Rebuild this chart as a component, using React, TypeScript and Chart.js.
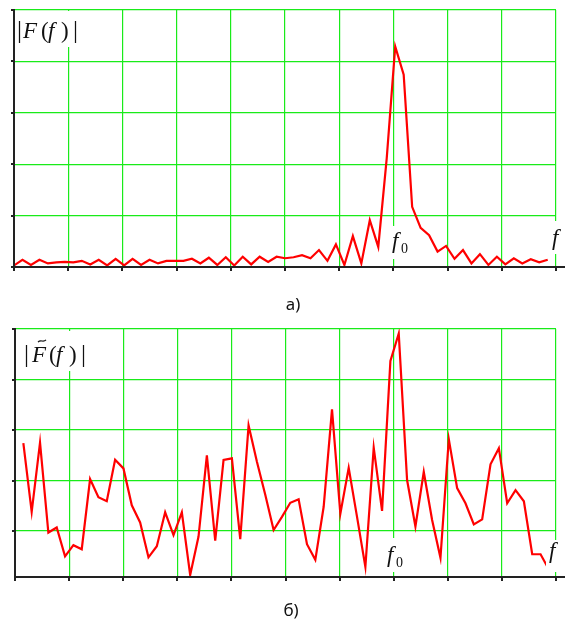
import React, { useEffect, useRef } from "react";
import { Chart, registerables } from "chart.js";

Chart.register(...registerables);

// ---------- data ----------
const X_GRID_TICKS = [0, 1, 2, 3, 4, 5, 6, 7, 8, 9, 10];
const TOP_Y_TICKS = [0, 1, 2, 3, 4, 5];
const BOTTOM_Y_TICKS = [1, 2, 3, 4, 5];
const TOP_Y_MIN = 0;
const TOP_Y_MAX = 5;
const BOTTOM_Y_MIN = 0.09;
const BOTTOM_Y_MAX = 5;

// frequency step (in grid units) between samples
const TOP_FREQ_STEP = 0.1563;
const BOTTOM_FREQ_STEP = 0.1542;
const BOTTOM_FIRST_INDEX = 1;

// |F(f)| — clean spectrum, samples 0..63
const topSpectrum = [
  0.03, 0.14, 0.04, 0.14, 0.07, 0.09, 0.1, 0.09, 0.12, 0.05,
  0.14, 0.03, 0.16, 0.03, 0.16, 0.04, 0.14, 0.07, 0.12, 0.12,
  0.12, 0.16, 0.07, 0.18, 0.04, 0.19, 0.03, 0.2, 0.05, 0.2,
  0.1, 0.2, 0.17, 0.19, 0.23, 0.17, 0.33, 0.12, 0.44, 0.04,
  0.6, 0.07, 0.91, 0.39, 2.12, 4.29, 3.74, 1.17, 0.76, 0.62,
  0.3, 0.41, 0.16, 0.33, 0.07, 0.25, 0.04, 0.2, 0.05, 0.17,
  0.07, 0.15, 0.09, 0.14,
];

// |F~(f)| — noisy spectrum, samples 1..64
const bottomSpectrum = [
  2.74, 1.38, 2.75, 0.97, 1.07, 0.5, 0.72, 0.64, 2.03, 1.67,
  1.59, 2.41, 2.24, 1.51, 1.17, 0.48, 0.7, 1.37, 0.92, 1.37,
  0.13, 0.89, 2.5, 0.81, 2.41, 2.44, 0.84, 3.09, 2.37, 1.72,
  1.02, 1.28, 1.56, 1.63, 0.74, 0.43, 1.48, 3.41, 1.34, 2.25,
  1.28, 0.29, 2.65, 1.4, 4.37, 4.91, 2.01, 1.09, 2.17, 1.22,
  0.47, 2.82, 1.85, 1.55, 1.13, 1.23, 2.32, 2.64, 1.55, 1.81,
  1.59, 0.54, 0.54, 0.24,
];

const CAPTION_TOP = "а)";
const CAPTION_BOTTOM = "б)";

// ---------- styles ----------
const GRID_COLOR = "rgb(25,235,25)";
const LINE_COLOR = "#ff0000";
const AXIS_COLOR = "#222222";
const SERIF = '"Liberation Serif", "DejaVu Serif", serif';

type Run = { t: string; x: number; italic?: boolean; size?: number; dy?: number };
type Box = [number, number, number, number];
type Label = { box: Box; runs: Run[]; baseline: number; tilde?: [number, number] };

function drawRuns(ctx: CanvasRenderingContext2D, baseline: number, runs: Run[]) {
  ctx.fillStyle = "#111";
  ctx.textAlign = "left";
  ctx.textBaseline = "alphabetic";
  for (const r of runs) {
    ctx.font = `${r.italic ? "italic " : ""}${r.size || 23}px ${SERIF}`;
    ctx.fillText(r.t, r.x, baseline + (r.dy || 0));
  }
}

function makeDecorPlugin(labels: Label[], yTicks: number[], caption: { text: string; x: number; y: number }) {
  return {
    id: "decor",
    afterDraw(chart: any) {
      const ctx: CanvasRenderingContext2D = chart.ctx;
      const { left, top, bottom } = chart.chartArea;
      const xs = chart.scales.x;
      const ys = chart.scales.y;
      ctx.save();
      // label boxes + labels
      for (const l of labels) {
        ctx.fillStyle = "#ffffff";
        ctx.fillRect(l.box[0], l.box[1], l.box[2], l.box[3]);
        drawRuns(ctx, l.baseline, l.runs);
        if (l.tilde) {
          const [tx, ty] = l.tilde;
          ctx.beginPath();
          ctx.strokeStyle = "#111";
          ctx.lineWidth = 1.1;
          ctx.moveTo(tx, ty + 1.2);
          ctx.bezierCurveTo(tx + 2.5, ty - 2, tx + 5.5, ty + 2, tx + 8, ty - 1.2);
          ctx.stroke();
        }
      }
      // axes
      ctx.strokeStyle = AXIS_COLOR;
      ctx.lineWidth = 2;
      ctx.beginPath();
      ctx.moveTo(left, top - 1);
      ctx.lineTo(left, bottom + 1);
      ctx.moveTo(left - 1, bottom);
      ctx.lineTo(chart.width, bottom);
      for (const v of yTicks) {
        const py = Math.round(ys.getPixelForValue(v));
        ctx.moveTo(left - 3, py);
        ctx.lineTo(left, py);
      }
      for (const v of X_GRID_TICKS) {
        const px = Math.round(xs.getPixelForValue(v));
        ctx.moveTo(px, bottom);
        ctx.lineTo(px, bottom + 4);
      }
      ctx.stroke();
      // caption
      ctx.fillStyle = "#111";
      ctx.font = '17px "Noto Sans", "Open Sans", sans-serif';
      ctx.textAlign = "center";
      ctx.fillText(caption.text, caption.x, caption.y);
      ctx.restore();
    },
  };
}

function buildChart(
  canvas: HTMLCanvasElement,
  points: { x: number; y: number }[],
  yMin: number,
  yMax: number,
  yTicks: number[],
  padding: { left: number; top: number; right: number; bottom: number },
  plugin: any
) {
  return new Chart(canvas, {
    type: "line",
    data: {
      datasets: [
        {
          data: points,
          borderColor: LINE_COLOR,
          borderWidth: 2.2,
          pointRadius: 0,
          tension: 0,
          fill: false,
        },
      ],
    },
    options: {
      animation: false,
      responsive: false,
      events: [],
      layout: { padding },
      plugins: { legend: { display: false }, tooltip: { enabled: false } },
      scales: {
        x: {
          type: "linear",
          min: 0,
          max: 10,
          afterBuildTicks: (s: any) => {
            s.ticks = X_GRID_TICKS.map((v) => ({ value: v }));
          },
          ticks: { display: false },
          grid: { color: GRID_COLOR, lineWidth: 1.2, drawTicks: false },
          border: { display: false },
        },
        y: {
          type: "linear",
          min: yMin,
          max: yMax,
          afterBuildTicks: (s: any) => {
            s.ticks = yTicks.map((v) => ({ value: v }));
          },
          ticks: { display: false },
          grid: { color: GRID_COLOR, lineWidth: 1.2, drawTicks: false },
          border: { display: false },
        },
      },
    } as any,
    plugins: [plugin],
  });
}

const TOP_H = 315;
const BOTTOM_H = 305;

export default function App() {
  const topRef = useRef<HTMLCanvasElement | null>(null);
  const bottomRef = useRef<HTMLCanvasElement | null>(null);

  useEffect(() => {
    const topPoints = topSpectrum.map((v, i) => ({ x: i * TOP_FREQ_STEP, y: v }));
    const bottomPoints = bottomSpectrum.map((v, i) => ({
      x: (i + BOTTOM_FIRST_INDEX) * BOTTOM_FREQ_STEP,
      y: v,
    }));

    const topLabels: Label[] = [
      {
        box: [15, 11, 68, 36],
        baseline: 38,
        runs: [
          { t: "|", x: 17, size: 25 },
          { t: "F", x: 23, italic: true },
          { t: "(", x: 41 },
          { t: "f", x: 48, italic: true },
          { t: ")", x: 61 },
          { t: "|", x: 73, size: 25 },
        ],
      },
      {
        box: [388, 226, 23, 33],
        baseline: 248,
        runs: [
          { t: "f", x: 392, italic: true },
          { t: "0", x: 401, size: 14, dy: 5 },
        ],
      },
      {
        box: [548, 221, 17, 33],
        baseline: 245,
        runs: [{ t: "f", x: 552, italic: true }],
      },
    ];

    const o = TOP_H; // offset of bottom canvas
    const bottomLabels: Label[] = [
      {
        box: [16, 331 - o, 74, 40],
        baseline: 362 - o,
        tilde: [38, 341 - o],
        runs: [
          { t: "|", x: 24, size: 25 },
          { t: "F", x: 32, italic: true },
          { t: "(", x: 49 },
          { t: "f", x: 56, italic: true },
          { t: ")", x: 69 },
          { t: "|", x: 81, size: 25 },
        ],
      },
      {
        box: [384, 538 - o, 24, 34],
        baseline: 562 - o,
        runs: [
          { t: "f", x: 387, italic: true },
          { t: "0", x: 396, size: 14, dy: 5 },
        ],
      },
      {
        box: [546, 540 - o, 19, 32],
        baseline: 558 - o,
        runs: [{ t: "f", x: 549, italic: true }],
      },
    ];

    const c1 = buildChart(
      topRef.current!,
      topPoints,
      TOP_Y_MIN,
      TOP_Y_MAX,
      TOP_Y_TICKS,
      { left: 14, top: 10, right: 9, bottom: TOP_H - 267 },
      makeDecorPlugin(topLabels, TOP_Y_TICKS, { text: CAPTION_TOP, x: 293, y: 310 })
    );
    const c2 = buildChart(
      bottomRef.current!,
      bottomPoints,
      BOTTOM_Y_MIN,
      BOTTOM_Y_MAX,
      BOTTOM_Y_TICKS,
      { left: 15, top: 329 - o, right: 9, bottom: BOTTOM_H - (577 - o) },
      makeDecorPlugin(bottomLabels, BOTTOM_Y_TICKS, { text: CAPTION_BOTTOM, x: 291, y: 616 - o })
    );
    return () => {
      c1.destroy();
      c2.destroy();
    };
  }, []);

  return (
    <div
      style={{
        position: "fixed",
        left: 0,
        top: 0,
        width: 565,
        height: 620,
        background: "#ffffff",
        overflow: "hidden",
      }}
    >
      <canvas
        ref={topRef}
        width={565}
        height={TOP_H}
        style={{ position: "absolute", left: 0, top: 0, width: 565, height: TOP_H }}
      />
      <canvas
        ref={bottomRef}
        width={565}
        height={BOTTOM_H}
        style={{ position: "absolute", left: 0, top: TOP_H, width: 565, height: BOTTOM_H }}
      />
    </div>
  );
}
